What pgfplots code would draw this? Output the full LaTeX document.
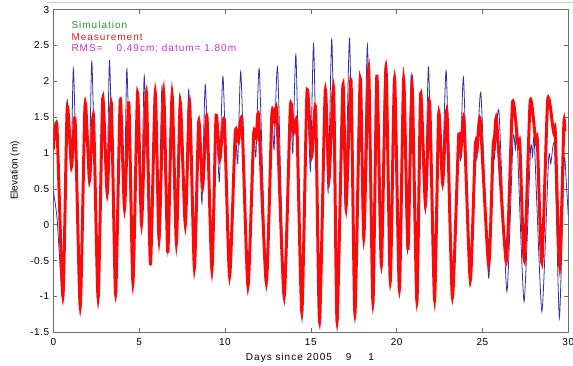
\documentclass[border=0pt]{standalone}
\usepackage{fontspec}
\setmainfont{Liberation Sans}
\newfontfamily\lfont{Liberation Sans}[LetterSpace=10]
\newfontfamily\tfont{Liberation Sans}[LetterSpace=5]
\usepackage{pgfplots}
\pgfplotsset{compat=1.18}
\definecolor{simblue}{RGB}{50,50,165}
\definecolor{measred}{RGB}{250,10,10}
\definecolor{txtgreen}{RGB}{40,150,40}
\definecolor{txtred}{RGB}{215,30,30}
\definecolor{txtmag}{RGB}{210,40,210}
\definecolor{axgray}{RGB}{110,110,110}
\definecolor{topgreen}{RGB}{170,225,170}
\begin{document}
\begin{tikzpicture}
\path[use as bounding box] (0pt,0pt) rectangle (573pt,366pt);
\begin{axis}[
  at={(53.3pt,33.7pt)}, anchor=south west,
  scale only axis, width=515pt, height=322.7pt,
  xmin=0, xmax=30, ymin=-1.5, ymax=3,
  xtick={0,5,10,15,20,25,30},
  xticklabels={0,5,10,15,20,25,30},
  ytick={-1.5,-1,-0.5,0,0.5,1,1.5,2,2.5,3},
  yticklabels={-1.5,-1,-0.5,0,0.5,1,1.5,2,2.5,3},
  tick align=inside, tick pos=both,
  major tick length=4pt,
  every tick/.style={axgray, line width=0.5pt},
  axis line style={axgray, line width=0.6pt},
  ticklabel style={font=\tfont\fontsize{10}{12}\selectfont, text=black},
  yticklabel style={inner sep=0pt, xshift=-4pt},
  xticklabel style={inner sep=0pt, yshift=-6.3pt},
]
\addplot[simblue, line width=0.8pt, smooth, tension=0.35] coordinates {
(0.00,0.47) (0.22,0.09) (0.56,-0.98) (0.80,1.72) (1.04,0.76) (1.18,2.16)
(1.57,-1.12) (1.84,1.74) (2.09,0.55) (2.25,2.27) (2.61,-1.00) (2.87,1.80)
(3.12,0.38) (3.28,2.29) (3.63,-0.95) (3.89,1.78) (4.13,0.18) (4.29,2.17)
(4.64,-0.80) (4.90,1.84) (5.12,-0.03) (5.30,2.07) (5.66,-0.55) (5.93,1.84)
(6.14,-0.25) (6.33,1.93) (6.67,-0.40) (6.91,1.80) (7.16,-0.28) (7.36,1.80)
(7.67,-0.05) (7.89,1.88) (8.22,-0.60) (8.46,1.42) (8.66,0.30) (8.86,1.95)
(9.24,-0.63) (9.47,1.48) (9.67,0.60) (9.89,2.06) (10.27,-0.72) (10.58,1.30)
(10.74,0.85) (10.93,2.12) (11.34,-0.86) (11.65,1.28) (11.80,0.95) (12.00,2.16)
(12.41,-0.81) (12.71,1.50) (12.86,1.05) (13.07,2.18) (13.45,-1.00) (13.79,1.62)
(13.95,1.00) (14.14,2.35) (14.48,-1.22) (14.76,1.84) (14.98,0.75) (15.17,2.50)
(15.51,-1.35) (15.82,1.84) (16.01,0.45) (16.23,2.58) (16.53,-1.35) (16.85,1.92)
(17.01,0.18) (17.26,2.60) (17.57,-1.24) (17.86,2.00) (18.05,-0.22) (18.30,2.51)
(18.62,-1.09) (18.83,2.05) (19.09,-0.58) (19.34,2.25) (19.63,-0.80) (19.86,1.95)
(20.14,-0.92) (20.38,1.90) (20.64,-0.38) (20.85,2.09) (21.18,-1.07) (21.38,1.78)
(21.65,0.22) (21.86,2.20) (22.21,-1.04) (22.43,1.50) (22.65,0.55) (22.89,2.14)
(23.25,-1.01) (23.58,1.15) (23.72,0.90) (23.90,2.04) (24.29,-0.85) (24.60,1.00)
(24.68,0.92) (24.91,1.83) (25.36,-0.74) (25.62,1.00) (25.70,0.92) (25.96,1.58)
(26.42,-0.93) (26.78,1.20) (26.92,1.05) (27.00,1.32) (27.42,-1.07) (27.80,1.05)
(27.92,0.95) (28.02,1.16) (28.46,-1.21) (28.85,0.92) (28.98,0.85) (29.20,1.09)
(29.48,-1.30) (29.76,0.90) (29.88,0.60) (30.00,0.12)
};
\addplot[measred, line width=3pt, smooth, tension=0.35] coordinates {
(0.00,1.05) (0.21,1.38) (0.56,-1.00) (0.81,1.63) (1.06,0.81) (1.27,1.46)
(1.57,-1.14) (1.85,1.68) (2.11,0.62) (2.34,1.52) (2.61,-1.02) (2.88,1.76)
(3.14,0.44) (3.38,1.70) (3.63,-0.97) (3.90,1.74) (4.15,0.23) (4.40,1.70)
(4.64,-0.81) (4.91,1.84) (5.14,0.02) (5.42,1.84) (5.66,-0.56) (5.94,1.84)
(6.16,-0.20) (6.43,1.84) (6.67,-0.39) (6.92,1.81) (7.17,-0.25) (7.40,1.70)
(7.69,0.00) (7.94,1.70) (8.22,-0.60) (8.47,1.44) (8.70,0.53) (8.95,1.51)
(9.24,-0.63) (9.48,1.51) (9.70,0.91) (9.96,1.46) (10.27,-0.72) (10.60,1.28)
(10.79,1.16) (10.99,1.46) (11.34,-0.86) (11.67,1.25) (11.82,1.20) (11.96,1.51)
(12.41,-0.81) (12.73,1.53) (12.88,1.45) (13.02,1.56) (13.45,-1.00) (13.81,1.65)
(14.00,1.28) (14.19,1.39) (14.48,-1.22) (14.78,1.86) (15.05,0.95) (15.28,1.62)
(15.51,-1.35) (15.84,1.86) (16.06,0.63) (16.33,1.90) (16.53,-1.35) (16.87,1.95)
(17.06,0.26) (17.34,2.02) (17.57,-1.24) (17.88,2.04) (18.09,-0.18) (18.37,2.18)
(18.62,-1.09) (18.85,2.09) (19.11,-0.56) (19.38,2.18) (19.63,-0.79) (19.88,2.04)
(20.16,-0.90) (20.41,2.03) (20.66,-0.35) (20.90,1.95) (21.18,-1.07) (21.40,1.83)
(21.68,0.28) (21.92,1.72) (22.21,-1.04) (22.45,1.55) (22.68,0.58) (22.93,1.58)
(23.25,-1.01) (23.61,1.22) (23.74,1.02) (23.92,1.47) (24.29,-0.77) (24.58,1.10)
(24.68,1.02) (24.87,1.46) (25.36,-0.56) (25.62,1.10) (25.68,1.05) (25.82,1.46)
(26.39,-0.50) (26.75,1.70) (27.05,1.15) (27.12,1.08) (27.18,1.12) (27.44,-0.50)
(27.78,1.72) (28.08,1.20) (28.15,1.12) (28.20,1.16) (28.46,-0.53) (28.80,1.74)
(29.12,1.32) (29.18,1.26) (29.24,1.30) (29.50,-0.58) (29.74,1.40) (29.80,1.30)
};
\node[anchor=base west, inner sep=0pt, text=txtgreen, font=\lfont\fontsize{10}{12}\selectfont] at (axis cs:1.05,2.73) {Simulation};
\node[anchor=base west, inner sep=0pt, text=txtred, font=\lfont\fontsize{10}{12}\selectfont] at (axis cs:1.05,2.57) {Measurement};
\node[anchor=base west, inner sep=0pt, text=txtmag, font=\lfont\fontsize{10}{12}\selectfont] at (axis cs:1.05,2.41) {RMS=\hspace{14pt}0.49cm; datum= 1.80m};
\end{axis}
\draw[topgreen, line width=1.5pt] (46.7pt,363.3pt) -- (573pt,363.3pt);
\node[anchor=base, inner sep=0pt, font=\lfont\fontsize{10}{12}\selectfont] at (310pt,5.8pt) {Days since 2005\hspace{14pt}9\hspace{17pt}1};
\node[rotate=90, anchor=center, inner sep=0pt, font=\fontsize{10}{12}\selectfont] at (15pt,195.5pt) {Elevation (m)};
\end{tikzpicture}
\end{document}
